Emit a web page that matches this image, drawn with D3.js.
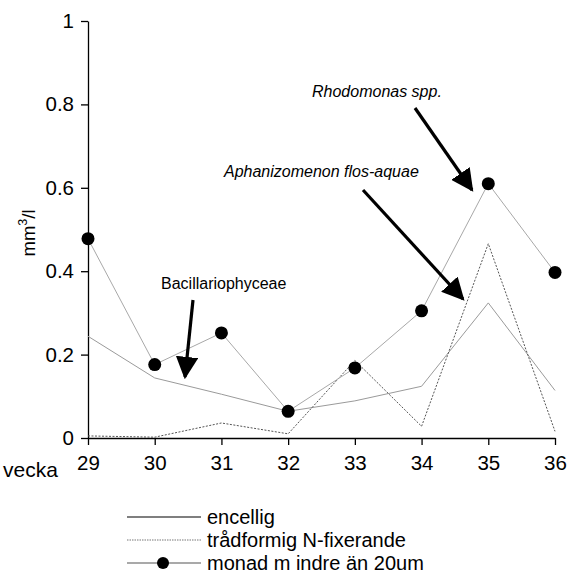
<!DOCTYPE html>
<html>
<head>
<meta charset="utf-8">
<script src="https://cdn.jsdelivr.net/npm/d3@7"></script>
<style>
  html, body { margin: 0; padding: 0; background: #fff; }
  svg { display: block; font-family: Arial, "Liberation Sans", sans-serif; }
</style>
</head>
<body>
<svg id="chart" width="568" height="573"></svg>
<script>
// Weeks sampled
const weeks = [29, 30, 31, 32, 33, 34, 35, 36];
// Biovolume (mm3/l) per group
const encellig = [0.244, 0.144, 0.105, 0.064, 0.089, 0.124, 0.324, 0.114];
const tradformig = [0.005, 0.002, 0.036, 0.010, 0.186, 0.028, 0.466, 0.016];
const monad = [0.478, 0.176, 0.252, 0.064, 0.168, 0.305, 0.610, 0.397];
const yTicks = [0, 0.2, 0.4, 0.6, 0.8, 1];

const svg = d3.select("#chart");
const x = d3.scaleLinear().domain([29, 36]).range([88, 555]);
const y = d3.scaleLinear().domain([0, 1]).range([438, 21]);

// Axes
const yAxis = svg.append("g").attr("transform", "translate(88,0)")
  .call(d3.axisLeft(y).tickValues(yTicks).tickFormat(d => d === 0 || d === 1 ? d3.format("d")(d) : d3.format(".1f")(d)).tickSize(7).tickSizeOuter(0));
const xAxis = svg.append("g").attr("transform", "translate(0,438)")
  .call(d3.axisBottom(x).tickValues(weeks).tickFormat(d3.format("d")).tickSize(7).tickSizeOuter(0));
[yAxis, xAxis].forEach(g => {
  g.select(".domain").attr("stroke", "#000").attr("stroke-width", 1.3);
  g.selectAll(".tick line").attr("stroke", "#000").attr("stroke-width", 1.3);
  g.selectAll(".tick text").attr("font-size", 20.5).attr("fill", "#000").attr("font-family", "Arial, 'Liberation Sans', sans-serif");
});
yAxis.selectAll(".tick text").attr("dx", "-4");
xAxis.selectAll(".tick text").attr("dy", "1.05em");

svg.append("text").attr("x", 3).attr("y", 477).attr("font-size", 21).text("vecka");

// y-axis title
const yl = svg.append("text")
  .attr("transform", "translate(35,233) rotate(-90)")
  .attr("text-anchor", "middle").attr("font-size", 18.5);
yl.append("tspan").text("mm");
yl.append("tspan").attr("dy", -8).attr("font-size", 12.5).text("3");
yl.append("tspan").attr("dy", 8).text("/l");

const line = d3.line().x((d, i) => x(weeks[i])).y(d => y(d));

svg.append("path").datum(encellig).attr("d", line)
  .attr("fill", "none").attr("stroke", "#9a9a9a").attr("stroke-width", 1);
svg.append("path").datum(tradformig).attr("d", line)
  .attr("fill", "none").attr("stroke", "#555").attr("stroke-width", 1).attr("stroke-dasharray", "2,1.5");
svg.append("path").datum(monad).attr("d", line)
  .attr("fill", "none").attr("stroke", "#a8a8a8").attr("stroke-width", 1);
svg.selectAll("circle.m").data(monad).enter().append("circle")
  .attr("class", "m").attr("cx", (d, i) => x(weeks[i])).attr("cy", d => y(d)).attr("r", 6.5).attr("fill", "#000");

// Annotations with arrows
svg.append("defs").append("marker").attr("id", "ah")
  .attr("viewBox", "0 0 10 10").attr("refX", 9).attr("refY", 5)
  .attr("markerWidth", 7).attr("markerHeight", 7).attr("markerUnits", "strokeWidth")
  .attr("orient", "auto")
  .append("path").attr("d", "M0,0 L10,5 L0,10 Z").attr("fill", "#000");

const notes = [
  { text: "Rhodomonas spp.", italic: true, tx: 312, ty: 97, x1: 415, y1: 108, x2: 472, y2: 190 },
  { text: "Aphanizomenon flos-aquae", italic: true, tx: 224, ty: 177, x1: 363, y1: 190, x2: 463, y2: 299 },
  { text: "Bacillariophyceae", italic: false, tx: 161, ty: 289, x1: 193, y1: 300, x2: 185, y2: 377 }
];
notes.forEach(n => {
  svg.append("text").attr("x", n.tx).attr("y", n.ty).attr("font-size", 16)
    .attr("font-style", n.italic ? "italic" : "normal").text(n.text);
  svg.append("line").attr("x1", n.x1).attr("y1", n.y1).attr("x2", n.x2).attr("y2", n.y2)
    .attr("stroke", "#000").attr("stroke-width", 3.2).attr("marker-end", "url(#ah)");
});

// Legend
const legend = [
  { label: "encellig", stroke: "#000", dash: null, dot: false },
  { label: "trådformig N-fixerande", stroke: "#777", dash: "1.5,1", dot: false },
  { label: "monad m indre än 20um", stroke: "#555", dash: null, dot: true }
];
const lg = svg.append("g");
legend.forEach((d, i) => {
  const ly = 517 + i * 23;
  lg.append("line").attr("x1", 127).attr("x2", 201).attr("y1", ly).attr("y2", ly)
    .attr("stroke", d.stroke).attr("stroke-width", 1.2).attr("stroke-dasharray", d.dash);
  if (d.dot) lg.append("circle").attr("cx", 163).attr("cy", ly).attr("r", 6).attr("fill", "#000");
  lg.append("text").attr("x", 207).attr("y", ly + 7).attr("font-size", 20).text(d.label);
});
</script>
</body>
</html>
